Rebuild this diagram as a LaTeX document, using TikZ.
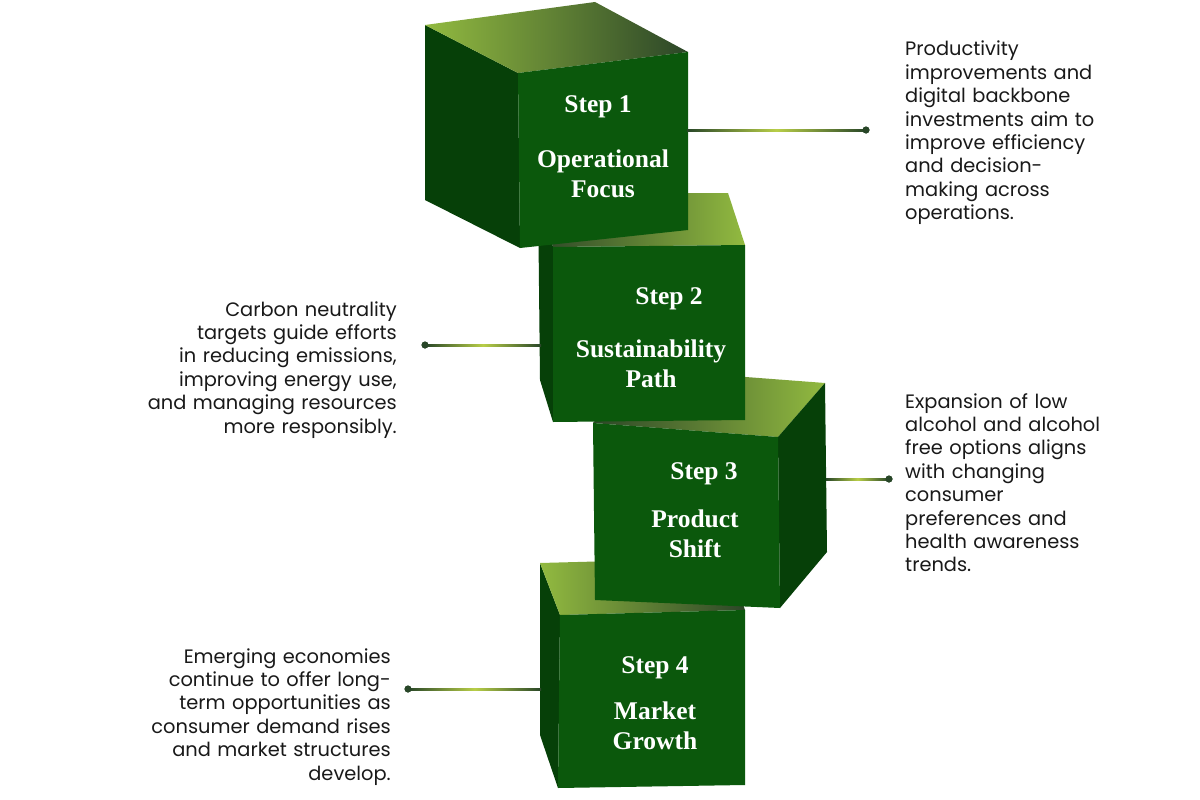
\documentclass[tikz,border=0pt]{standalone}
\usepackage{fontspec}
\newfontfamily\popfont{Poppins}
\newfontfamily\serfont{Liberation Serif}
\usetikzlibrary{calc}
\definecolor{frontg}{RGB}{11,88,12}
\definecolor{sideg}{RGB}{6,64,8}
\definecolor{topl}{RGB}{146,186,64}
\definecolor{topd}{RGB}{44,70,40}
\definecolor{lnd}{RGB}{40,70,40}
\definecolor{lnl}{RGB}{184,206,72}
\definecolor{txt}{RGB}{25,25,25}
\tikzset{
  desc/.style={inner sep=0pt, text width=250pt, text=txt, font=\popfont\fontsize{19.4}{23.4}\selectfont},
  descR/.style={desc, align=left, anchor=base west},
  descL/.style={desc, align=right, anchor=base east},
  steplbl/.style={inner sep=0pt, anchor=base, text=white, font=\serfont\bfseries\fontsize{25.5}{30}\selectfont},
  namelbl/.style={steplbl, text width=220pt, align=center},
  dotnode/.style={circle, fill=lnd, inner sep=0pt, minimum size=7pt},
}
\begin{document}
\begin{tikzpicture}[x=1pt,y=-1pt]
\path[use as bounding box, fill=white] (0,0) rectangle (1200,800);

% ---- cube 4 ----
\fill[sideg] (540,563) -- (560,615) -- (558,788) -- (540,735) -- cycle;
\shade[left color=topl, right color=topd] (540,563) -- (727,558) -- (745,610) -- (560,615) -- cycle;
\fill[frontg] (560,615) -- (745,610) -- (745,785) -- (558,788) -- cycle;
\coordinate (c4) at (541,689);
\node[dotnode] (d4) at (408,689) {};
\shade[left color=lnd, right color=lnd, middle color=lnl] ($(d4)+(0,-1)$) rectangle ($(c4)+(0,1)$);
\node[dotnode] at (d4) {};
\node[steplbl] (s4) at (655,673) {Step 4};
\node[namelbl] (n4) at (655,719) {Market\\Growth};

% ---- cube 3 ----
\shade[left color=topd, right color=topl] (593,423) -- (640,369) -- (825,383) -- (778,437) -- cycle;
\fill[sideg] (778,437) -- (825,383) -- (827,552) -- (780,608) -- cycle;
\fill[frontg] (593,423) -- (778,437) -- (780,608) -- (595,600) -- cycle;
\coordinate (c3) at (826,479);
\node[dotnode] (d3) at (889,479) {};
\shade[left color=lnd, right color=lnd, middle color=lnl] ($(c3)+(0,-1)$) rectangle ($(d3)+(0,1)$);
\node[dotnode] at (d3) {};
\node[steplbl] (s3) at (704,479) {Step 3};
\node[namelbl] (n3) at (695,527) {Product\\Shift};

% ---- cube 2 ----
\shade[left color=topd, right color=topl] (538,193) -- (728,193) -- (745,245) -- (553,247) -- cycle;
\fill[sideg] (538,193) -- (553,247) -- (553,422) -- (540,380) -- cycle;
\fill[frontg] (553,247) -- (745,245) -- (745,420) -- (553,422) -- cycle;
\coordinate (c2) at (541,345);
\node[dotnode] (d2) at (425,345) {};
\shade[left color=lnd, right color=lnd, middle color=lnl] ($(d2)+(0,-1)$) rectangle ($(c2)+(0,1)$);
\node[dotnode] at (d2) {};
\node[steplbl] (s2) at (669,304) {Step 2};
\node[namelbl] (n2) at (651,357) {Sustainability\\Path};

% ---- cube 1 ----
\fill[sideg] (425,25) -- (518,73) -- (520,248) -- (425,200) -- cycle;
\shade[left color=topl, right color=topd] (425,25) -- (595,2) -- (688,52) -- (518,73) -- cycle;
\fill[frontg] (518,73) -- (688,52) -- (688,230) -- (520,248) -- cycle;
\coordinate (c1) at (687,130);
\node[dotnode] (d1) at (866,130) {};
\shade[left color=lnd, right color=lnd, middle color=lnl] ($(c1)+(0,-1)$) rectangle ($(d1)+(0,1)$);
\node[dotnode] at (d1) {};
\node[steplbl] (s1) at (598,112) {Step 1};
\node[namelbl] (n1) at (603,167) {Operational\\Focus};

% ---- descriptions ----
\node[descR] (t1) at (905,56) {Productivity\\improvements and\\digital backbone\\investments aim to\\improve efficiency\\and decision-\\making across\\operations.};
\node[descL] (t2) at (397,316) {Carbon neutrality\\targets guide efforts\\in reducing emissions,\\improving energy use,\\and managing resources\\more responsibly.};
\node[descR] (t3) at (905,408) {Expansion of low\\alcohol and alcohol\\free options aligns\\with changing\\consumer\\preferences and\\health awareness\\trends.};
\node[descL] (t4) at (391,663) {Emerging economies\\continue to offer long-\\term opportunities as\\consumer demand rises\\and market structures\\develop.};
\end{tikzpicture}
\end{document}
